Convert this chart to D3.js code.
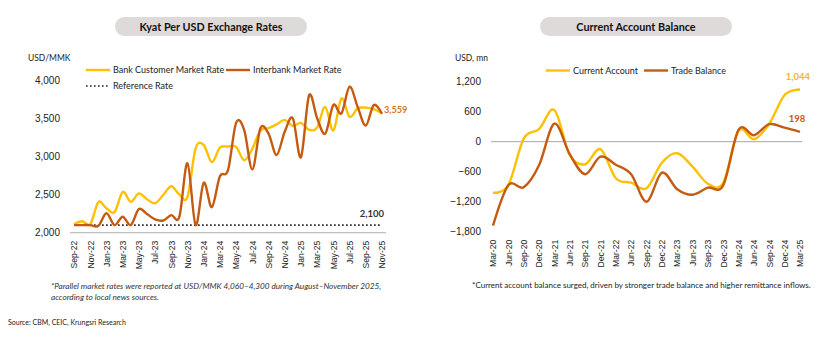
<!DOCTYPE html>
<html>
<head>
<meta charset="utf-8">
<script src="https://cdn.jsdelivr.net/npm/d3@7"></script>
<style>
  body { margin: 0; background: #fff; }
  svg { font-family: Lato, "Open Sans", sans-serif; }
</style>
</head>
<body>
<svg id="chart" width="840" height="337"></svg>
<script>
// Kyat per USD, monthly
const rateMonths = ["Sep-22","Oct-22","Nov-22","Dec-22","Jan-23","Feb-23","Mar-23","Apr-23","May-23","Jun-23",
  "Jul-23","Aug-23","Sep-23","Oct-23","Nov-23","Dec-23","Jan-24","Feb-24","Mar-24","Apr-24",
  "May-24","Jun-24","Jul-24","Aug-24","Sep-24","Oct-24","Nov-24","Dec-24","Jan-25","Feb-25",
  "Mar-25","Apr-25","May-25","Jun-25","Jul-25","Aug-25","Sep-25","Oct-25","Nov-25"];
const bankRate = [2110,2150,2110,2400,2320,2270,2535,2405,2515,2440,
  2385,2495,2610,2500,2470,3105,3150,2925,3115,3130,
  3125,2950,3100,3340,3370,3420,3480,3400,3440,3350,
  3380,3650,3340,3760,3520,3630,3640,3620,3565];
const interbankRate = [2100,2100,2100,2090,2255,2100,2210,2100,2310,2245,
  2175,2160,2230,2210,2910,2100,2655,2335,2740,2820,
  3440,3345,2830,3370,3300,3020,3325,3500,2990,3800,
  3500,3300,3675,3565,3915,3650,3405,3675,3559];
const referenceRate = 2100;
const rateTicks = [2000, 2500, 3000, 3500, 4000];

// Current account, quarterly (USD mn)
const quarters = ["Mar-20","Jun-20","Sep-20","Dec-20","Mar-21","Jun-21","Sep-21","Dec-21","Mar-22","Jun-22",
  "Sep-22","Dec-22","Mar-23","Jun-23","Sep-23","Dec-23","Mar-24","Jun-24","Sep-24","Dec-24","Mar-25"];
const currentAccount = [-1020,-866,60,250,630,-270,-450,-150,-730,-820,
  -930,-420,-230,-500,-840,-820,220,50,360,934,1044];
const tradeBalance = [-1680,-870,-910,-470,360,-250,-650,-300,-460,-650,
  -1200,-620,-950,-1060,-920,-870,240,130,350,280,198];
const balanceTicks = [-1800, -1200, -600, 0, 600, 1200];

const gold = "#FFC000", rust = "#C55A11";
const svg = d3.select("#chart");

function titlePill(cx, w, label) {
  svg.append("rect")
    .attr("x", cx - w / 2).attr("y", 17)
    .attr("width", w).attr("height", 19)
    .attr("rx", 9.5)
    .attr("fill", "#DEDADA");
  svg.append("text")
    .attr("x", cx).attr("y", 30.5)
    .attr("text-anchor", "middle")
    .style("font-size", "10.8px")
    .style("font-weight", "bold")
    .attr("fill", "#111")
    .text(label);
}

function legendItem(x, y, color, label, dashed) {
  svg.append("line")
    .attr("x1", x).attr("x2", x + 24)
    .attr("y1", y).attr("y2", y)
    .attr("stroke", color)
    .attr("stroke-width", dashed ? 1.6 : 2.4)
    .attr("stroke-dasharray", dashed ? "1.6,2.4" : null);
  svg.append("text")
    .attr("x", x + 27).attr("y", y + 3)
    .style("font-size", "9px")
    .attr("fill", "#222")
    .text(label);
}

function styleXAxis(g) {
  g.select(".domain").remove();
  g.selectAll("text")
    .attr("transform", "rotate(-90)")
    .attr("text-anchor", "end")
    .attr("x", -6).attr("y", 0).attr("dy", "0.32em")
    .style("font-size", "8.6px")
    .attr("fill", "#222");
}

function styleYAxis(g) {
  g.select(".domain").remove();
  g.selectAll("text").style("font-size", "10px").attr("fill", "#222");
}

// ---------- Left: exchange rates ----------
titlePill(211, 192, "Kyat Per USD Exchange Rates");

svg.append("text").attr("x", 28).attr("y", 61)
  .style("font-size", "8.5px").attr("fill", "#222").text("USD/MMK");

legendItem(86, 70, gold, "Bank Customer Market Rate");
legendItem(226, 70, rust, "Interbank Market Rate");
legendItem(86, 86, "#222", "Reference Rate", true);

const x1 = d3.scalePoint().domain(rateMonths).range([70, 386]).padding(0.5);
const y1 = d3.scaleLinear().domain([2000, 4000]).range([232.7, 80.2]);

svg.append("g")
  .attr("transform", "translate(70,0)")
  .call(d3.axisLeft(y1).tickValues(rateTicks).tickSize(0).tickPadding(10).tickFormat(d3.format(",")))
  .call(styleYAxis);

svg.append("line")
  .attr("x1", 70).attr("x2", 386)
  .attr("y1", y1(2000)).attr("y2", y1(2000))
  .attr("stroke", "#BFBFBF").attr("stroke-width", 1.2);

svg.append("g")
  .attr("transform", `translate(0,${y1(2000) + 2})`)
  .call(d3.axisBottom(x1).tickValues(rateMonths.filter((m, i) => i % 2 === 0)).tickSize(0))
  .call(styleXAxis);

svg.append("line")
  .attr("x1", x1(rateMonths[0])).attr("x2", x1(rateMonths[rateMonths.length - 1]))
  .attr("y1", y1(referenceRate)).attr("y2", y1(referenceRate))
  .attr("stroke", "#222").attr("stroke-width", 1.6)
  .attr("stroke-dasharray", "1.6,2.4");

const rateLine = series => d3.line()
  .x((d, i) => x1(rateMonths[i]))
  .y(d => y1(d))
  .curve(d3.curveCatmullRom.alpha(0))(series);

svg.append("path").attr("d", rateLine(bankRate))
  .attr("fill", "none").attr("stroke", gold).attr("stroke-width", 2.4);
svg.append("path").attr("d", rateLine(interbankRate))
  .attr("fill", "none").attr("stroke", rust).attr("stroke-width", 2.4);

svg.append("text")
  .attr("x", x1(rateMonths[rateMonths.length - 1]) + 2).attr("y", y1(interbankRate[interbankRate.length - 1]) - 1)
  .style("font-size", "9.2px").style("font-weight", "bold").attr("fill", "#D2782A")
  .text(d3.format(",")(interbankRate[interbankRate.length - 1]));

svg.append("text")
  .attr("x", 384).attr("y", y1(referenceRate) - 8)
  .attr("text-anchor", "end")
  .style("font-size", "9.5px").style("font-weight", "bold").attr("fill", "#333")
  .text(d3.format(",")(referenceRate));

svg.append("text").attr("x", 51).attr("y", 289)
  .style("font-size", "8.2px").style("font-style", "italic").attr("fill", "#333")
  .text("*Parallel market rates were reported at USD/MMK 4,060\u20134,300 during August\u2013November 2025,");
svg.append("text").attr("x", 51).attr("y", 300)
  .style("font-size", "8.2px").style("font-style", "italic").attr("fill", "#333")
  .text("according to local news sources.");

svg.append("text").attr("x", 8).attr("y", 325)
  .style("font-size", "7px").attr("fill", "#222")
  .text("Source: CBM, CEIC, Krungsri Research");

// ---------- Right: current account ----------
titlePill(636, 192, "Current Account Balance");

svg.append("text").attr("x", 455).attr("y", 61)
  .style("font-size", "8.5px").attr("fill", "#222").text("USD, mn");

legendItem(546, 70.5, gold, "Current Account");
legendItem(644, 70.5, rust, "Trade Balance");

const x2 = d3.scalePoint().domain(quarters).range([493, 800]);
const y2 = d3.scaleLinear().domain([-1800, 1200]).range([231.7, 81.7]);

svg.append("g")
  .attr("transform", "translate(491,0)")
  .call(d3.axisLeft(y2).tickValues(balanceTicks).tickSize(0).tickPadding(10).tickFormat(d3.format(",")))
  .call(styleYAxis);

svg.append("line")
  .attr("x1", 491).attr("x2", 802)
  .attr("y1", y2(0)).attr("y2", y2(0))
  .attr("stroke", "#A6A6A6").attr("stroke-width", 1);

svg.append("g")
  .attr("transform", `translate(0,${y2(-1800) + 2})`)
  .call(d3.axisBottom(x2).tickSize(0))
  .call(styleXAxis);

const balLine = series => d3.line()
  .x((d, i) => x2(quarters[i]))
  .y(d => y2(d))
  .curve(d3.curveCatmullRom.alpha(0))(series);

svg.append("path").attr("d", balLine(currentAccount))
  .attr("fill", "none").attr("stroke", gold).attr("stroke-width", 2.4);
svg.append("path").attr("d", balLine(tradeBalance))
  .attr("fill", "none").attr("stroke", rust).attr("stroke-width", 2.4);

svg.append("text")
  .attr("x", 798).attr("y", y2(currentAccount[currentAccount.length - 1]) - 10)
  .attr("text-anchor", "middle")
  .style("font-size", "9.5px").style("font-weight", "bold").attr("fill", "#F2B43C")
  .text(d3.format(",")(currentAccount[currentAccount.length - 1]));
svg.append("text")
  .attr("x", 797).attr("y", y2(tradeBalance[tradeBalance.length - 1]) - 10)
  .attr("text-anchor", "middle")
  .style("font-size", "9.5px").style("font-weight", "bold").attr("fill", rust)
  .text(d3.format(",")(tradeBalance[tradeBalance.length - 1]));

svg.append("text").attr("x", 472).attr("y", 288)
  .style("font-size", "8px").attr("fill", "#222")
  .text("*Current account balance surged, driven by stronger trade balance and higher remittance inflows.");
</script>
</body>
</html>
